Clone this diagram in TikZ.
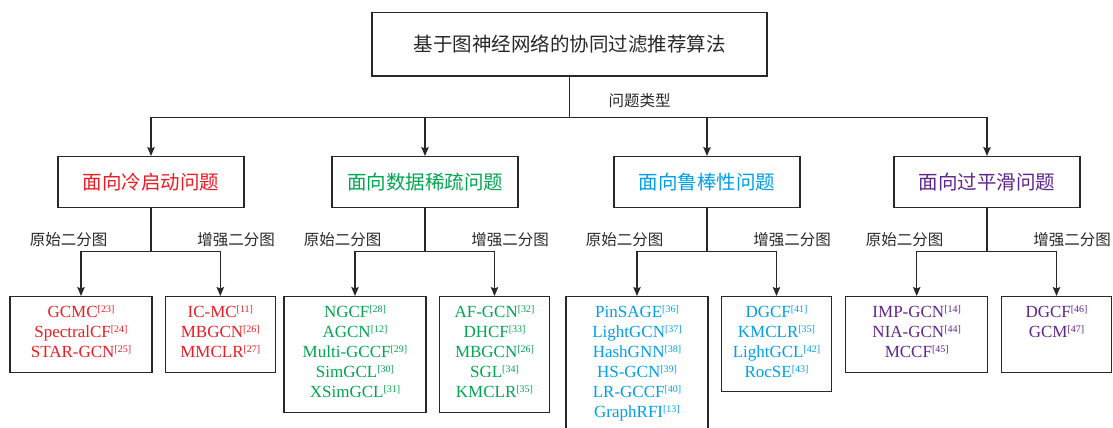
\documentclass[tikz,border=0pt]{standalone}
\usepackage{fontspec}
\setmainfont{Liberation Serif}
\newfontfamily\cjk{Noto Sans CJK SC}
\usetikzlibrary{arrows.meta,calc}
\definecolor{cred}{RGB}{236,28,36}
\definecolor{cgreen}{RGB}{0,166,81}
\definecolor{ccyan}{RGB}{0,160,233}
\definecolor{cpurple}{RGB}{96,37,140}
\definecolor{ink}{RGB}{40,40,40}
\newcommand\rf[1]{\raisebox{5.5pt}{\fontsize{10}{10}\selectfont[#1]}}
\newcommand\fs{\rule{0pt}{14pt}}
\begin{document}
\begin{tikzpicture}[x=1pt,y=-1pt,
  box/.style={draw=ink, line width=1.1pt, fill=white, inner sep=0pt},
  conn/.style={draw=ink, line width=1.1pt, -{Stealth[length=9pt,width=7.5pt,inset=1.5pt]}},
  titlebox/.style={box, minimum width=395pt, minimum height=63.5pt, font=\cjk\fontsize{19.5}{22}\selectfont, text=ink},
  cat/.style={box, minimum width=186pt, minimum height=50.5pt, font=\cjk\fontsize{19.5}{22}\selectfont},
  lab/.style={font=\cjk\fontsize{15.5}{18}\selectfont, text=ink, inner sep=0pt},
  leafa/.style={box, anchor=north, minimum width=142pt},
  leafb/.style={box, anchor=north, minimum width=110.5pt},
  items/.style={anchor=north, inner sep=0pt, align=center, font=\fontsize{17}{20}\selectfont},
]
\useasboundingbox (0,0) rectangle (1113,428);

\node[titlebox] (top) at (569.5,44.2) {基于图神经网络的协同过滤推荐算法};
\coordinate (bus) at (0,117.5);
\coordinate (sub) at (0,251.5);

\node[cat, text=cred] (c1) at (151,181.8) {面向冷启动问题};
\node[cat, text=cgreen] (c2) at (425,181.8) {面向数据稀疏问题};
\node[cat, text=ccyan] (c3) at (707,181.8) {面向鲁棒性问题};
\node[cat, text=cpurple] (c4) at (987,181.8) {面向过平滑问题};

\node[leafa, minimum height=76pt] (l1a) at (81,296) {};
\node[leafb, minimum height=76pt] (l1b) at (220.3,296) {};
\node[leafa, minimum height=116pt] (l2a) at (355,296) {};
\node[leafb, minimum height=116pt] (l2b) at (494.5,296) {};
\node[leafa, minimum height=145pt] (l3a) at (637,296) {};
\node[leafb, minimum height=95pt] (l3b) at (776.5,296) {};
\node[leafa, minimum height=76pt] (l4a) at (916.7,296) {};
\node[leafb, minimum height=76pt] (l4b) at (1056.5,296) {};

\node[items, text=cred] (t1a) at ([yshift=-7.3pt]l1a.north) {\fs GCMC\rf{23}\\SpectralCF\rf{24}\\STAR-GCN\rf{25}};
\node[items, text=cred] (t1b) at ([yshift=-7.3pt]l1b.north) {\fs IC-MC\rf{11}\\MBGCN\rf{26}\\MMCLR\rf{27}};
\node[items, text=cgreen] (t2a) at ([yshift=-7.3pt]l2a.north) {\fs NGCF\rf{28}\\AGCN\rf{12}\\Multi-GCCF\rf{29}\\SimGCL\rf{30}\\XSimGCL\rf{31}};
\node[items, text=cgreen] (t2b) at ([yshift=-7.3pt]l2b.north) {\fs AF-GCN\rf{32}\\DHCF\rf{33}\\MBGCN\rf{26}\\SGL\rf{34}\\KMCLR\rf{35}};
\node[items, text=ccyan] (t3a) at ([yshift=-7.3pt]l3a.north) {\fs PinSAGE\rf{36}\\LightGCN\rf{37}\\HashGNN\rf{38}\\HS-GCN\rf{39}\\LR-GCCF\rf{40}\\GraphRFI\rf{13}};
\node[items, text=ccyan] (t3b) at ([yshift=-7.3pt]l3b.north) {\fs DGCF\rf{41}\\KMCLR\rf{35}\\LightGCL\rf{42}\\RocSE\rf{43}};
\node[items, text=cpurple] (t4a) at ([yshift=-7.3pt]l4a.north) {\fs IMP-GCN\rf{14}\\NIA-GCN\rf{44}\\MCCF\rf{45}};
\node[items, text=cpurple] (t4b) at ([yshift=-7.3pt]l4b.north) {\fs DGCF\rf{46}\\GCM\rf{47}};

\foreach \c in {c1,c2,c3,c4}
  \draw[conn] (top.south) -- (top.south |- bus) -| (\c.north);
\node[lab] (qt) at ($(top.south |- bus)+(70,-17)$) {问题类型};

\foreach \c/\a/\b in {c1/l1a/l1b, c2/l2a/l2b, c3/l3a/l3b, c4/l4a/l4b}{
  \draw[conn] (\c.south) -- (\c.south |- sub) -| (\a.north);
  \draw[conn] (\c.south) -- (\c.south |- sub) -| (\b.north);
  \node[lab] (o\c) at ($(\c.south |- sub)+(-82.5,-11.5)$) {原始二分图};
  \node[lab] (e\c) at ($(\c.south |- sub)+(85,-11.5)$) {增强二分图};
}
\end{tikzpicture}
\end{document}
